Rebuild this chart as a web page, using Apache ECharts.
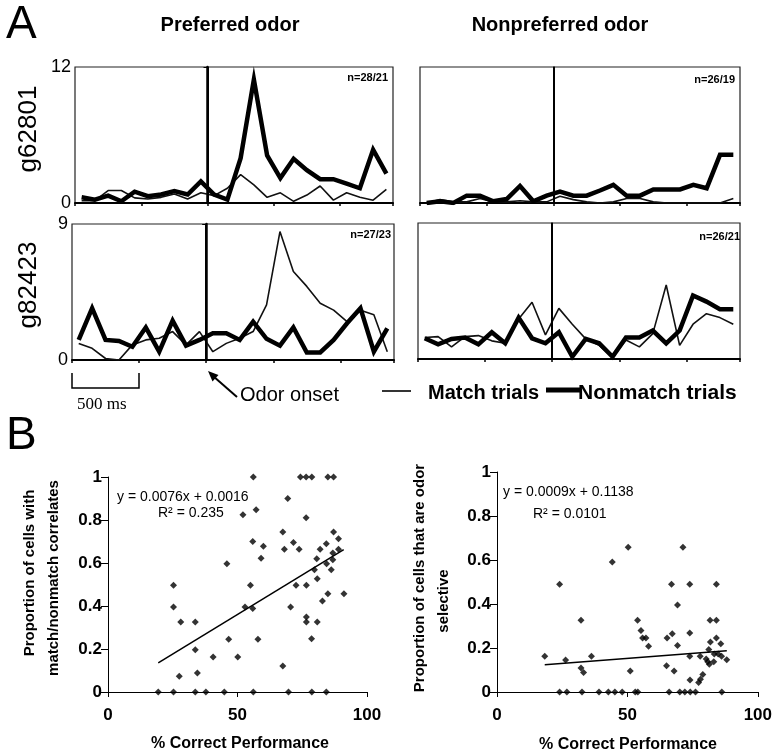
<!DOCTYPE html>
<html>
<head>
<meta charset="utf-8">
<script src="https://cdn.jsdelivr.net/npm/echarts@6/dist/echarts.min.js"></script>
<style>
html,body{margin:0;padding:0;background:#fff;}
#chart{width:775px;height:751px;}
</style>
</head>
<body>
<div id="chart"></div>
<script>
// ---------- Panel A data (firing rate per 100 ms bin) ----------
const timeBins = [-950,-850,-750,-650,-550,-450,-350,-250,-150,-50,50,150,250,350,450,550,650,750,850,950,1050,1150,1250,1350];

const g62801PrefMatch    = [0.2,0.2,1.1,1.1,0.45,0.35,0.5,0.8,0.35,0.9,0.65,1.3,2.5,1.6,0.5,0.9,0.15,0.7,1.5,0.25,0.9,0.5,0.25,1.2];
const g62801PrefNonmatch = [0.5,0.3,0.65,0.15,1.0,0.6,0.75,1.05,0.75,1.9,0.75,0.3,3.95,10.9,4.2,2.2,3.9,2.9,2.1,2.1,1.7,1.3,4.7,2.6];
const g62801NonMatch     = [0.0,0.3,0.1,0.1,0.4,0.1,0.1,0.2,0.1,0.1,0.6,0.3,0.1,0.0,0.1,0.4,0.4,0.1,0.0,0.0,0.0,0.0,0.0,0.4];
const g62801NonNonmatch  = [0.0,0.15,0.0,0.65,0.65,0.15,0.35,1.5,0.15,0.65,1.0,0.65,0.65,1.1,1.6,0.65,0.65,1.2,1.2,1.2,1.6,1.3,4.25,4.25];

const g82423PrefMatch    = [1.1,0.77,0.1,0.0,1.0,1.33,1.44,1.88,1.0,1.88,0.55,1.1,1.44,1.88,3.65,8.5,5.86,4.87,3.76,3.3,2.54,3.3,3.0,0.55];
const g82423PrefNonmatch = [1.33,3.43,1.33,1.26,0.88,2.15,0.55,2.6,0.95,1.33,1.77,1.77,1.33,2.54,1.4,0.95,2.15,0.5,0.5,1.33,2.43,3.43,0.55,2.1];
const g82423NonMatch     = [1.42,1.48,0.8,1.48,1.55,1.2,1.04,2.65,3.76,1.6,3.35,2.3,1.33,0.9,0.1,1.26,0.8,1.68,4.9,0.9,2.3,3.0,2.74,2.3];
const g82423NonNonmatch  = [1.37,0.97,1.33,1.42,0.97,1.77,1.04,2.74,1.37,1.04,1.77,0.15,1.33,1.04,0.15,1.42,1.42,1.88,1.04,1.88,4.2,3.8,3.3,3.3];

const panelCounts = ['n=28/21','n=26/19','n=27/23','n=26/21'];

// ---------- Panel B data ----------
const matchPerf = [19.4,25.3,33.7,37.8,44.9,56.1,69.7,78.7,84.3,
  56.1,74.3,76.5,78.7,84.9,87.1,69.4,52.1,57.2,76.5,67.5,87.1,55.9,71.6,89.0,60.0,68.1,73.8,84.3,81.9,89.0,86.8,
  59.1,80.6,86.8,45.9,79.7,86.2,84.4,80.8,25.3,55.0,72.6,76.6,84.9,91.1,82.8,25.3,52.9,55.9,70.5,28.1,33.7,76.6,76.6,80.8,
  46.6,57.9,78.6,33.7,40.6,50.1,67.5,34.5,27.5];
const matchProp = [0,0,0,0,0,0,0,0,0,
  1,1,1,1,1,1,0.9,0.825,0.848,0.81,0.744,0.744,0.70,0.695,0.713,0.678,0.664,0.664,0.69,0.664,0.664,0.647,
  0.622,0.62,0.615,0.597,0.569,0.569,0.597,0.527,0.496,0.496,0.496,0.496,0.457,0.457,0.423,0.395,0.395,0.388,0.395,0.326,0.326,0.349,0.326,0.326,
  0.245,0.245,0.248,0.197,0.163,0.163,0.121,0.088,0.073];
const matchTrend = [[19.4,0.135],[91.0,0.662]];

const odorPerf = [24.0,26.8,32.6,39.1,42.7,45.2,48.0,53.0,54.0,66.0,70.1,72.0,74.1,76.1,86.2,
  18.3,24.0,26.3,32.2,32.2,33.2,36.2,44.2,50.3,51.1,53.9,55.2,55.8,57.1,58.1,65.0,67.2,65.2,67.9,66.9,69.2,69.2,71.3,
  73.9,73.9,73.9,74.0,77.3,78.0,78.9,77.9,81.2,81.8,80.2,80.8,81.4,83.1,81.7,84.1,84.1,84.1,83.3,85.8,84.8,86.1,88.1];
const odorProp = [0,0,0,0,0,0,0,0,0,0,0,0,0,0,0,
  0.162,0.49,0.145,0.326,0.109,0.089,0.162,0.591,0.658,0.096,0.326,0.28,0.245,0.245,0.208,0.119,0.265,0.245,0.096,0.49,0.395,0.211,0.658,
  0.49,0.268,0.162,0.055,0.043,0.058,0.08,0.162,0.193,0.227,0.15,0.138,0.126,0.138,0.326,0.326,0.49,0.245,0.173,0.219,0.173,0.162,0.147];
const odorTrend = [[18.3,0.124],[88.1,0.188]];

// ---------- helpers ----------
const FONT = "'Liberation Sans', Arial, sans-serif";
const zip = (xs, ys) => xs.map((x, i) => [x, ys[i]]);

const aGrids = [
  {left:75,  top:67,  width:318, height:136},
  {left:420, top:67,  width:320, height:136},
  {left:72,  top:224, width:322, height:136},
  {left:418, top:223, width:322, height:136}
];
const aMax = [12,12,9,9];
const aShowLabels = [true,false,true,false];

const grids = aGrids.map(g => Object.assign({show:true, borderColor:'#222', borderWidth:1.2, backgroundColor:'#fff'}, g));
grids.push({left:108, top:477, width:259, height:215});
grids.push({left:497, top:472, width:265, height:220});

const xAxes = [], yAxes = [];
for (let i = 0; i < 4; i++) {
  xAxes.push({type:'value', gridIndex:i, min:-1000, max:1400, interval:500,
    axisLine:{show:true, lineStyle:{color:'#000', width:2}},
    axisTick:{show:true, length:3, lineStyle:{color:'#000', width:1.5}},
    axisLabel:{show:false}, splitLine:{show:false}});
  yAxes.push({type:'value', gridIndex:i, min:0, max:aMax[i], interval:aMax[i],
    axisLine:{show:true, lineStyle:{color:'#000', width:aShowLabels[i] ? 2.5 : 1.5}},
    axisTick:{show:aShowLabels[i], length:4, lineStyle:{color:'#000'}},
    axisLabel:{show:aShowLabels[i], fontFamily:FONT, fontSize:18, color:'#000', margin:4},
    splitLine:{show:false}});
}
for (let i = 4; i < 6; i++) {
  xAxes.push({type:'value', gridIndex:i, min:0, max:100, interval:50,
    axisLine:{show:true, onZero:false, lineStyle:{color:'#000', width:1}},
    axisTick:{show:true, length:5, lineStyle:{color:'#000'}},
    axisLabel:{fontFamily:FONT, fontWeight:'bold', fontSize:17, color:'#000', margin:15},
    splitLine:{show:false}});
  yAxes.push({type:'value', gridIndex:i, min:0, max:1, interval:0.2,
    axisLine:{show:true, lineStyle:{color:'#000', width:1}},
    axisTick:{show:true, length:7, lineStyle:{color:'#000'}},
    axisLabel:{fontFamily:FONT, fontWeight:'bold', fontSize:17, color:'#000', margin:6},
    splitLine:{show:false}});
}

const panelSeries = [
  [g62801PrefMatch, g62801PrefNonmatch],
  [g62801NonMatch, g62801NonNonmatch],
  [g82423PrefMatch, g82423PrefNonmatch],
  [g82423NonMatch, g82423NonNonmatch]
];
const series = [];
panelSeries.forEach((pair, i) => {
  series.push({type:'line', xAxisIndex:i, yAxisIndex:i, data:zip(timeBins, pair[0]),
    symbol:'none', lineStyle:{color:'#111', width:1.6}, z:3,
    markLine:{silent:true, symbol:'none', label:{show:false},
      lineStyle:{color:'#000', width:2, type:'solid'}, data:[{xAxis:0}]}});
  series.push({type:'line', xAxisIndex:i, yAxisIndex:i, data:zip(timeBins, pair[1]),
    symbol:'none', lineStyle:{color:'#000', width:4.5, join:'miter'}, z:4});
});
series.push({type:'scatter', xAxisIndex:4, yAxisIndex:4, data:zip(matchPerf, matchProp),
  symbol:'diamond', symbolSize:7, itemStyle:{color:'#000'}});
series.push({type:'line', xAxisIndex:4, yAxisIndex:4, data:matchTrend, symbol:'none',
  lineStyle:{color:'#000', width:1.5}});
series.push({type:'scatter', xAxisIndex:5, yAxisIndex:5, data:zip(odorPerf, odorProp),
  symbol:'diamond', symbolSize:7, itemStyle:{color:'#000'}});
series.push({type:'line', xAxisIndex:5, yAxisIndex:5, data:odorTrend, symbol:'none',
  lineStyle:{color:'#000', width:1.5}});

function txt(text, x, y, font, align, vAlign, extra) {
  return Object.assign({type:'text', x:x, y:y, z:100,
    style:{text:text, font:font, fill:'#000', align:align || 'left', verticalAlign:vAlign || 'middle'}}, extra || {});
}

const nPos = [[388,78],[735,80],[391,235],[740,237]];
const graphic = [
  txt('A', 6, 25, "46px " + FONT),
  txt('B', 6, 436, "46px " + FONT),
  txt('Preferred odor', 230, 25, "bold 20px " + FONT, 'center'),
  txt('Nonpreferred odor', 560, 25, "bold 20px " + FONT, 'center'),
  txt('g62801', 29, 129, "26px " + FONT, 'center', 'middle', {rotation:Math.PI/2}),
  txt('g82423', 29, 285, "26px " + FONT, 'center', 'middle', {rotation:Math.PI/2}),
  // scale bar
  {type:'polyline', z:100, shape:{points:[[72,373],[72,388],[139,388],[139,373]]}, style:{stroke:'#000', lineWidth:1.5, fill:null}},
  txt('500 ms', 77, 405, "17px 'Liberation Serif', 'Times New Roman', serif"),
  // odor onset arrow
  {type:'line', z:100, shape:{x1:237, y1:397, x2:213, y2:376}, style:{stroke:'#000', lineWidth:2}},
  {type:'polygon', z:100, shape:{points:[[208,371],[218.5,375],[212.5,381.5]]}, style:{fill:'#000'}},
  txt('Odor onset', 240, 395, "20px " + FONT),
  // legend
  {type:'line', z:100, shape:{x1:382, y1:391, x2:411, y2:391}, style:{stroke:'#000', lineWidth:1.6}},
  txt('Match trials', 428, 393, "bold 20px " + FONT),
  {type:'line', z:100, shape:{x1:546, y1:390, x2:580, y2:390}, style:{stroke:'#000', lineWidth:5}},
  txt('Nonmatch trials', 578, 393, "bold 21px " + FONT),
  // panel B texts
  txt('y = 0.0076x + 0.0016', 117, 497, "14px " + FONT),
  txt('R\u00b2 = 0.235', 158, 513, "14px " + FONT),
  txt('y = 0.0009x + 0.1138', 503, 492, "14px " + FONT),
  txt('R\u00b2 = 0.0101', 533, 514, "14px " + FONT),
  txt('Proportion of cells with', 30, 573, "bold 15px " + FONT, 'center', 'middle', {rotation:Math.PI/2}),
  txt('match/nonmatch correlates', 54, 578, "bold 15px " + FONT, 'center', 'middle', {rotation:Math.PI/2}),
  txt('Proportion of cells that are odor', 420, 578, "bold 15px " + FONT, 'center', 'middle', {rotation:Math.PI/2}),
  txt('selective', 444, 601, "bold 15px " + FONT, 'center', 'middle', {rotation:Math.PI/2}),
  txt('% Correct Performance', 240, 744, "bold 16px " + FONT, 'center'),
  txt('% Correct Performance', 628, 745, "bold 16px " + FONT, 'center')
];
panelCounts.forEach((t, i) => graphic.push(txt(t, nPos[i][0], nPos[i][1], "bold 11px " + FONT, 'right')));

const chart = echarts.init(document.getElementById('chart'), null, {renderer:'canvas'});
chart.setOption({
  animation:false,
  backgroundColor:'#fff',
  grid:grids, xAxis:xAxes, yAxis:yAxes, series:series, graphic:graphic
});
</script>
</body>
</html>
